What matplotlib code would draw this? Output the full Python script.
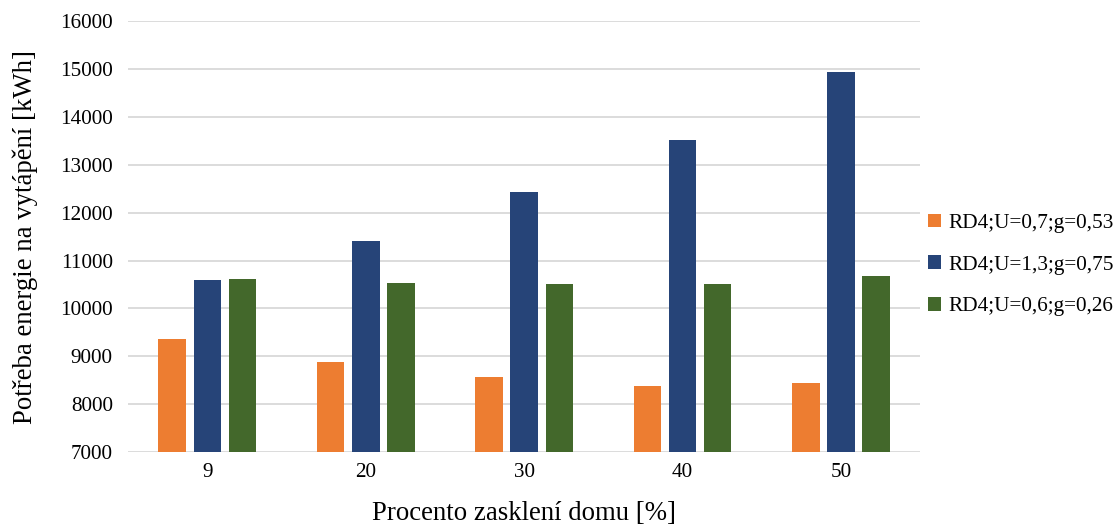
import matplotlib
matplotlib.use("Agg")
import matplotlib.pyplot as plt
import numpy as np

categories = ["9", "20", "30", "40", "50"]
series_names = ["RD4;U=0,7;g=0,53", "RD4;U=1,3;g=0,75", "RD4;U=0,6;g=0,26"]
s1 = [9355, 8889, 8576, 8387, 8450]
s2 = [10603, 11403, 12427, 13514, 14935]
s3 = [10624, 10532, 10505, 10519, 10686]
colors = ["#ED7D31", "#264478", "#43682B"]
yticks = [7000, 8000, 9000, 10000, 11000, 12000, 13000, 14000, 15000, 16000]

plt.rcParams['font.family'] = ['Liberation Serif', 'DejaVu Serif']

fig = plt.figure(figsize=(11.14, 5.27), dpi=100)
ax = fig.add_axes([0.115, 0.142, 0.711, 0.818])

x = np.arange(len(categories))
w = 0.174
off = 0.222
for i, (vals, name, c) in enumerate(zip([s1, s2, s3], series_names, colors)):
    ax.bar(x + (i - 1) * off, np.array(vals) - 7000, bottom=7000, width=w,
           color=c, label=name, zorder=3, edgecolor='none')

ax.set_xlim(-0.5, len(categories) - 0.5)
ax.set_ylim(7000, 16000)
ax.set_yticks(yticks)
ax.set_yticklabels([str(t) for t in yticks], fontsize=15.2)
ax.set_xticks(x)
ax.set_xticklabels(categories, fontsize=15.2)
ax.tick_params(axis='x', length=0, pad=8)
ax.tick_params(axis='y', length=0, pad=11)
ax.yaxis.grid(True, color='#d9d9d9', linewidth=1.3, zorder=0)
for s in ['top', 'right', 'left', 'bottom']:
    ax.spines[s].set_visible(False)
ax.set_ylabel("Potřeba energie na vytápění [kWh]", fontsize=19.3, labelpad=16)
ax.set_xlabel("Procento zasklení domu [%]", fontsize=19.3, labelpad=13.5)

leg = fig.legend(loc='center left', bbox_to_anchor=(0.833, 0.497), frameon=False,
                 fontsize=15.3, handlelength=0.6, handleheight=0.6, handletextpad=0.35,
                 labelspacing=1.05, borderpad=0, borderaxespad=0)

fig.savefig("out.png", dpi=100)
